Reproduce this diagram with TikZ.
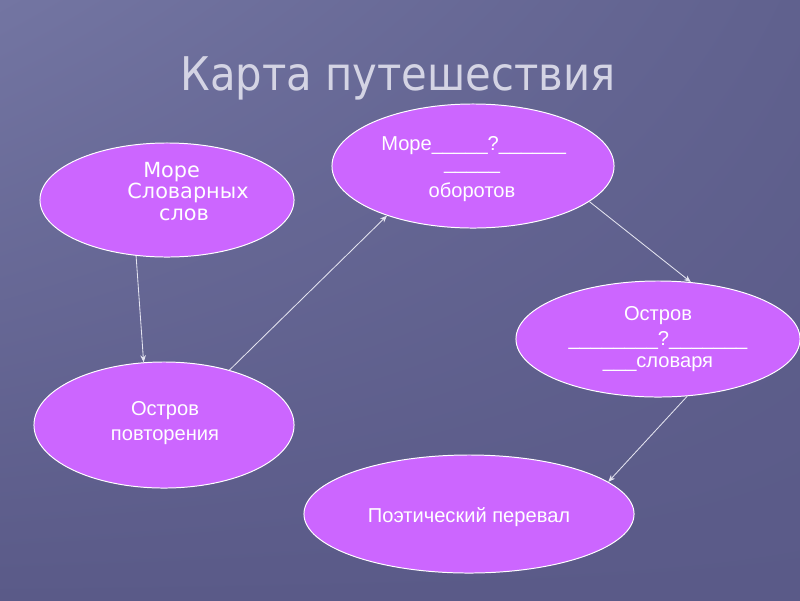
\documentclass[tikz,border=0pt]{standalone}
\usepackage{fontspec}
\setmainfont{Liberation Sans}
\newfontfamily\titlefont{DejaVu Sans}
\newfontfamily\titlefontnarrow[FakeStretch=0.9]{DejaVu Sans}
\usetikzlibrary{shapes.geometric,arrows.meta,shadings}
\definecolor{bgbase}{HTML}{5A5A88}
\definecolor{bgtl}{HTML}{7375A2}
\definecolor{bgtr}{HTML}{60618E}
\definecolor{isle}{HTML}{CC66FF}
\definecolor{titlecol}{HTML}{D4D4E4}
\definecolor{linecol}{HTML}{E4E4F0}
\tikzset{
  isle/.style={ellipse, draw=white, line width=0.7pt, fill=isle, inner sep=0pt},
  isletext/.style={text=white, font=\fontsize{14.3}{20}\selectfont, align=center, inner sep=0pt},
  conn/.style={draw=linecol, line width=0.6pt, -{Stealth[length=5pt,width=4pt]}}
}
\begin{document}
\begin{tikzpicture}[x=0.025cm,y=-0.025cm]
\shade[upper left=bgtl, upper right=bgtr, lower left=bgbase, lower right=bgbase] (0,0) rectangle (800,600);
\useasboundingbox (0,0) rectangle (800,600);

\node[text=titlecol, font=\titlefontnarrow\fontsize{33}{38}\selectfont, inner sep=0pt] (title) at (398,78) {Карта путешествия};

\node[isle, minimum width=6.35cm, minimum height=2.85cm] (e1) at (167,200) {};
\node[isle, minimum width=7.05cm, minimum height=3.1cm] (e2) at (473,166) {};
\node[isle, minimum width=7.1cm, minimum height=2.9cm] (e3) at (658,339) {};
\node[isle, minimum width=6.5cm, minimum height=3.15cm] (e4) at (164,425) {};
\node[isle, minimum width=8.25cm, minimum height=2.95cm] (e5) at (469,514) {};

\node[isletext, font=\titlefont\fontsize{14.8}{20}\selectfont, anchor=west] (t1a) at (143,172) {Море};
\node[isletext, font=\titlefont\fontsize{14.8}{20}\selectfont] (t1b) at (188,193) {Словарных};
\node[isletext, font=\titlefont\fontsize{14.8}{20}\selectfont] (t1c) at (184,215) {слов};

\node[isletext, anchor=west] (t2a) at (381,146) {Море\_\_\_\_\_?\_\_\_\_\_\_};
\node[isletext] (t2b) at (472,171) {\_\_\_\_\_};
\node[isletext] (t2c) at (472,192) {оборотов};

\node[isletext] (t3a) at (658,316) {Остров};
\node[isletext] (t3b) at (658,340) {\_\_\_\_\_\_\_\_?\_\_\_\_\_\_\_};
\node[isletext] (t3c) at (658,364) {\_\_\_словаря};

\node[isletext] (t4a) at (165,411) {Остров};
\node[isletext] (t4b) at (165,437) {повторения};

\node[isletext] (t5) at (469,517) {Поэтический перевал};

\draw[conn] (e1.241) -- (e4.108.7);
\draw[conn] (e4.40) -- (e2.210.7);
\draw[conn] (e2.343.8) -- (e3.60.3);
\draw[conn] (e3.297.7) -- (e5.13.4);
\end{tikzpicture}
\end{document}
